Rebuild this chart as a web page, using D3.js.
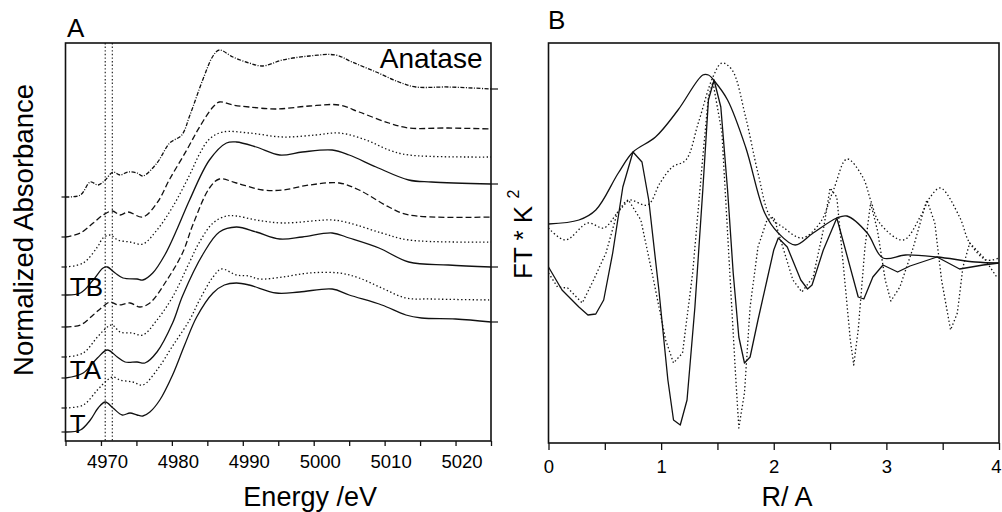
<!DOCTYPE html>
<html><head><meta charset="utf-8">
<script src="https://cdn.jsdelivr.net/npm/d3@7"></script>
<style>
body{margin:0;background:#fff}
svg{display:block}
text{font-family:"Liberation Sans",Arial,Helvetica,sans-serif;fill:#000}
</style>
</head><body>
<svg id="chart" width="1002" height="512"></svg>
<script>
// ---------- Panel A: XANES spectra, [energy eV, normalized absorbance (stacked)] ----------
const xanesAnatase = [[4965,2.44],[4967.1,2.46],[4968.5,2.59],[4969.6,2.56],[4970.6,2.61],[4971.7,2.69],[4972.7,2.66],[4973.8,2.69],[4975.1,2.68],[4975.9,2.65],[4977.9,2.78],[4979.7,2.98],[4981.4,3.06],[4982.5,3.25],[4984.4,3.62],[4985.8,3.85],[4986.7,3.91],[4988.6,3.84],[4990.9,3.78],[4992.8,3.75],[4995.6,3.81],[4999.4,3.85],[5003.1,3.86],[5005.4,3.79],[5008.8,3.69],[5012.0,3.59],[5014.4,3.54],[5019.0,3.54],[5025,3.52]];
const xanesDashed1 = [[4965,2.04],[4967.1,2.08],[4968.9,2.18],[4970.3,2.26],[4971.6,2.30],[4972.7,2.26],[4973.8,2.29],[4975.9,2.24],[4977.9,2.38],[4979.7,2.62],[4982.1,2.91],[4983.9,3.14],[4985.8,3.34],[4986.7,3.39],[4988.6,3.36],[4990.9,3.34],[4994.7,3.32],[4999.4,3.35],[5003.6,3.36],[5006.4,3.29],[5010.6,3.18],[5013.4,3.13],[5019.0,3.13],[5025,3.12]];
const xanesDotted1 = [[4965,1.74],[4967.5,1.78],[4969.5,1.94],[4970.3,2.03],[4971.3,2.06],[4972.4,2.01],[4974.1,1.99],[4975.9,1.97],[4977.9,2.11],[4980.1,2.34],[4982.5,2.66],[4983.9,2.87],[4985.3,3.02],[4987.2,3.09],[4990.9,3.08],[4995.6,3.04],[5000.3,3.06],[5003.6,3.08],[5007.4,3.01],[5010.6,2.91],[5013.4,2.86],[5025,2.84]];
const xanesTB = [[4965,1.46],[4967.1,1.48],[4968.9,1.61],[4970.3,1.73],[4970.9,1.74],[4972.0,1.68],[4973.1,1.63],[4975.1,1.62],[4975.9,1.61],[4977.3,1.68],[4979.0,1.86],[4980.8,2.13],[4982.5,2.41],[4985.3,2.81],[4987.7,2.98],[4989.1,2.99],[4991.9,2.94],[4995.2,2.86],[4998.4,2.89],[5002.6,2.91],[5005.0,2.86],[5008.8,2.74],[5013.4,2.61],[5016.6,2.59],[5025,2.57]];
const xanesDashed2 = [[4965,1.14],[4967.1,1.16],[4968.9,1.26],[4970.2,1.34],[4971.3,1.39],[4972.4,1.36],[4974.1,1.38],[4975.5,1.34],[4976.9,1.38],[4979.3,1.61],[4981.5,1.88],[4983.0,2.17],[4985.3,2.53],[4986.7,2.62],[4989.1,2.58],[4992.8,2.51],[4995.6,2.51],[4999.4,2.56],[5003.6,2.58],[5006.4,2.51],[5010.6,2.34],[5013.4,2.26],[5025,2.24]];
const xanesDotted2 = [[4965,0.84],[4967.5,0.88],[4969.5,1.04],[4970.9,1.14],[4971.6,1.16],[4972.7,1.09],[4974.4,1.08],[4975.9,1.06],[4977.9,1.21],[4980.1,1.44],[4982.5,1.79],[4983.9,1.99],[4985.8,2.18],[4987.7,2.25],[4989.1,2.25],[4991.9,2.21],[4995.6,2.18],[5002.6,2.21],[5005.0,2.18],[5009.6,2.08],[5013.4,2.01],[5025,1.99]];
const xanesTA = [[4965,0.63],[4967.5,0.68],[4969.5,0.83],[4970.9,0.91],[4972.3,0.84],[4973.4,0.79],[4975.1,0.79],[4976.2,0.78],[4977.9,0.89],[4980.1,1.18],[4981.5,1.45],[4984.4,1.87],[4986.7,2.09],[4989.1,2.14],[4991.9,2.09],[4995.2,2.02],[4998.4,2.04],[5002.6,2.08],[5005.0,2.03],[5009.2,1.93],[5013.4,1.79],[5019.0,1.76],[5025,1.74]];
const xanesDotted3 = [[4965,0.33],[4967.5,0.36],[4969.5,0.51],[4970.9,0.61],[4971.7,0.64],[4972.7,0.61],[4974.5,0.59],[4975.9,0.56],[4977.9,0.71],[4980.1,0.95],[4982.5,1.21],[4983.9,1.41],[4985.8,1.64],[4987.0,1.72],[4989.1,1.66],[4990.9,1.65],[4992.3,1.62],[4995.6,1.64],[4999.4,1.68],[5003.6,1.68],[5006.4,1.63],[5009.6,1.53],[5013.0,1.43],[5016.6,1.42],[5025,1.41]];
const xanesT = [[4965,0.09],[4967.1,0.11],[4968.5,0.21],[4969.6,0.33],[4970.6,0.39],[4971.7,0.33],[4973.0,0.26],[4974.1,0.28],[4975.1,0.26],[4975.9,0.25],[4976.9,0.29],[4978.3,0.41],[4980.1,0.66],[4981.8,0.96],[4983.5,1.24],[4985.8,1.48],[4987.4,1.56],[4989.1,1.58],[4990.9,1.56],[4994.7,1.48],[4998.0,1.49],[5002.6,1.52],[5005.0,1.46],[5009.6,1.36],[5013.0,1.26],[5015.2,1.23],[5020.0,1.22],[5025,1.19]];
const preEdgeMarkers = [4970.6, 4971.6];
const energyTicks = [4965,4970,4975,4980,4985,4990,4995,5000,5005,5010,5015,5020,5025];
const energyTickLabels = [4970,4980,4990,5000,5010,5020];

// ---------- Panel B: Fourier transforms, [R (A), FT*k^2 (arb.)] ----------
const ftMagSolid = [[0,54.75],[0.27,55.75],[0.42,58.25],[0.62,67.5],[0.75,72.75],[0.95,76.5],[1.15,83.25],[1.37,92],[1.42,92],[1.48,90.25],[1.59,85.75],[1.75,74],[1.92,57.5],[2.04,52.5],[2.19,49.5],[2.35,52.5],[2.56,56.25],[2.65,56.75],[2.83,52.5],[2.97,46.25],[3.17,47],[3.45,46.5],[3.79,45.25],[4.0,45]];
const ftRealSolid = [[0,44],[0.12,38.25],[0.27,34],[0.35,32],[0.42,32.25],[0.49,35.75],[0.57,47.5],[0.66,64],[0.75,72.75],[0.83,70.25],[0.89,60.75],[0.98,38.25],[1.06,15.75],[1.11,5.75],[1.17,4.5],[1.23,10.75],[1.30,34],[1.37,63.25],[1.42,85.75],[1.47,90.75],[1.53,84],[1.59,63.25],[1.64,42.5],[1.69,26.5],[1.74,20],[1.79,21.5],[1.86,30.75],[1.94,40.75],[2.0,48.25],[2.04,51.25],[2.12,49],[2.24,40.75],[2.30,38.5],[2.34,39.5],[2.44,48.25],[2.56,56.25],[2.63,49],[2.75,36.5],[2.80,36],[2.88,41.5],[2.97,44.5],[3.10,42.75],[3.21,44.25],[3.45,46.5],[3.65,43.5],[3.86,44.5],[4.0,45]];
const ftMagDotted = [[0,53.75],[0.15,50.75],[0.35,55],[0.49,53.75],[0.61,57.5],[0.71,60.75],[0.88,59.5],[0.99,65],[1.10,69],[1.22,70.75],[1.33,80],[1.46,91.5],[1.54,95],[1.63,93.25],[1.75,81.5],[1.86,67.5],[1.97,56.5],[2.08,54],[2.25,51.25],[2.41,55],[2.53,63.25],[2.65,71],[2.79,66.5],[2.86,60.75],[2.94,55],[3.15,50.75],[3.30,56.5],[3.39,61.5],[3.48,63.75],[3.65,56.5],[3.74,50],[3.89,45.75],[4.0,46.25]];
const ftRealDotted = [[0,42.5],[0.08,39],[0.17,38.75],[0.30,35],[0.40,40.75],[0.51,47.5],[0.61,57.5],[0.71,60.75],[0.82,55.75],[0.92,42.5],[1.04,25.75],[1.11,20],[1.19,22.5],[1.28,42.5],[1.37,71.5],[1.42,86.5],[1.46,90.25],[1.54,77.5],[1.61,42.5],[1.66,17.5],[1.69,3.75],[1.74,12.5],[1.79,34],[1.86,49],[1.94,55.75],[2.0,56.5],[2.08,49],[2.17,40.75],[2.25,37.75],[2.35,41.5],[2.44,53.25],[2.50,63.75],[2.56,61.5],[2.63,40.75],[2.68,25.75],[2.71,19.5],[2.75,28.25],[2.81,49],[2.86,60],[2.92,53.25],[2.99,40.75],[3.04,35.5],[3.12,39],[3.24,49],[3.34,59],[3.36,60.75],[3.43,55],[3.49,40.75],[3.57,28.25],[3.63,32.5],[3.68,44],[3.74,50],[3.86,46.5],[3.98,41.5]];
const rTicks = [0,0.5,1,1.5,2,2.5,3,3.5,4];
const rTickLabels = [0,1,2,3,4];

// ---------- drawing ----------
const svg = d3.select("#chart");
const ink = "#111";
const fontFam = '"Liberation Sans",Arial,sans-serif';

// Panel A
const xA = d3.scaleLinear().domain([4965, 5025]).range([65.5, 491]);
const yA = d3.scaleLinear().domain([0, 3.98]).range([441, 43]);
const gA = svg.append("g");

const dashDot = "4,1.5,1,1.5", dashed = "6,3", dotted = "1.4,2.4";
const seriesA = [
  {d: xanesAnatase, dash: dashDot, rightTick: true},
  {d: xanesDashed1, dash: dashed},
  {d: xanesDotted1, dash: dotted},
  {d: xanesTB, dash: null, rightTick: true},
  {d: xanesDashed2, dash: dashed},
  {d: xanesDotted2, dash: dotted},
  {d: xanesTA, dash: null, rightTick: true},
  {d: xanesDotted3, dash: dotted},
  {d: xanesT, dash: null, rightTick: true}
];
const lineA = d3.line().x(d => xA(d[0])).y(d => yA(d[1])).curve(d3.curveCatmullRom.alpha(0.5));

preEdgeMarkers.forEach(e => {
  gA.append("line").attr("x1", xA(e)).attr("x2", xA(e)).attr("y1", yA(3.98)).attr("y2", yA(0))
    .attr("stroke", ink).attr("stroke-width", 1.1).attr("stroke-dasharray", "1.4,2.2");
});
seriesA.forEach(s => {
  gA.append("path").attr("d", lineA(s.d)).attr("fill", "none").attr("stroke", ink)
    .attr("stroke-width", 1.3).attr("stroke-dasharray", s.dash);
  const first = s.d[0];
  gA.append("line").attr("x1", xA(first[0]) - 4).attr("x2", xA(first[0]))
    .attr("y1", yA(first[1])).attr("y2", yA(first[1])).attr("stroke", ink).attr("stroke-width", 1.2);
  if (s.rightTick) {
    const last = s.d[s.d.length - 1];
    gA.append("line").attr("x1", xA(last[0])).attr("x2", xA(last[0]) + 7)
      .attr("y1", yA(last[1])).attr("y2", yA(last[1])).attr("stroke", ink).attr("stroke-width", 1.2);
  }
});
gA.append("rect").attr("x", xA(4965)).attr("y", yA(3.98)).attr("width", xA(5025) - xA(4965))
  .attr("height", yA(0) - yA(3.98)).attr("fill", "none").attr("stroke", ink).attr("stroke-width", 1.6);

const axA = gA.append("g").attr("transform", `translate(0,${yA(0)})`)
  .call(d3.axisBottom(xA).tickValues(energyTicks).tickSize(5).tickPadding(9)
    .tickFormat(d => energyTickLabels.includes(d) ? d : ""));
axA.select(".domain").remove();
axA.selectAll("line").attr("stroke", ink).attr("stroke-width", 1.3);
axA.selectAll("text").attr("font-size", 18.5).attr("x", 6).style("font-family", fontFam);

gA.append("text").attr("x", xA(4999.5)).attr("y", 506).attr("text-anchor", "middle").attr("font-size", 27).text("Energy /eV");
gA.append("text").attr("transform", `translate(33,230) rotate(-90)`).attr("text-anchor", "middle")
  .attr("font-size", 27.5).text("Normalized Absorbance");
gA.append("text").attr("x", 67).attr("y", 37).attr("font-size", 26).text("A");
gA.append("text").attr("x", xA(5023.8)).attr("y", yA(3.73)).attr("text-anchor", "end").attr("font-size", 28).text("Anatase");
[["TB", xanesTB], ["TA", xanesTA], ["T", xanesT]].forEach(([lab, s]) => {
  gA.append("text").attr("x", xA(4965.6)).attr("y", yA(s[0][1]) + 1).attr("font-size", 26).text(lab);
});

// Panel B
const xB = d3.scaleLinear().domain([0, 4]).range([548.5, 999]);
const yB = d3.scaleLinear().domain([0, 100]).range([443, 43]);
const gB = svg.append("g");
const lineBs = d3.line().x(d => xB(d[0])).y(d => yB(d[1])).curve(d3.curveCatmullRom.alpha(0.5));
const lineBl = d3.line().x(d => xB(d[0])).y(d => yB(d[1]));
[
  {d: ftMagSolid, dash: null, gen: lineBs},
  {d: ftRealSolid, dash: null, gen: lineBl},
  {d: ftMagDotted, dash: dotted, gen: lineBs},
  {d: ftRealDotted, dash: dotted, gen: lineBl}
].forEach(s => {
  gB.append("path").attr("d", s.gen(s.d)).attr("fill", "none").attr("stroke", ink)
    .attr("stroke-width", 1.3).attr("stroke-dasharray", s.dash).attr("stroke-linejoin", "round");
});
gB.append("rect").attr("x", xB(0)).attr("y", yB(100)).attr("width", xB(4) - xB(0))
  .attr("height", yB(0) - yB(100)).attr("fill", "none").attr("stroke", ink).attr("stroke-width", 1.6);
const axB = gB.append("g").attr("transform", `translate(0,${yB(0)})`)
  .call(d3.axisBottom(xB).tickValues(rTicks).tickSize(7).tickPadding(10)
    .tickFormat(d => rTickLabels.includes(d) ? d : ""));
axB.select(".domain").remove();
axB.selectAll("line").attr("stroke", ink).attr("stroke-width", 1.3);
axB.selectAll("text").attr("font-size", 18.5).style("font-family", fontFam);
// keep the last label ("4") inside the picture
axB.selectAll(".tick").filter(d => d === 4).select("text").attr("text-anchor", "end").attr("x", 2);

gB.append("text").attr("x", 787).attr("y", 506).attr("text-anchor", "middle").attr("font-size", 27).text("R/ A");
gB.append("text").attr("x", 548).attr("y", 29).attr("font-size", 26).text("B");
const ft = gB.append("text").attr("transform", `translate(532,279) rotate(-90)`).attr("font-size", 26);
ft.append("tspan").text("FT * K ");
ft.append("tspan").attr("font-size", 16).attr("dy", -13).text("2");
</script>
</body></html>
